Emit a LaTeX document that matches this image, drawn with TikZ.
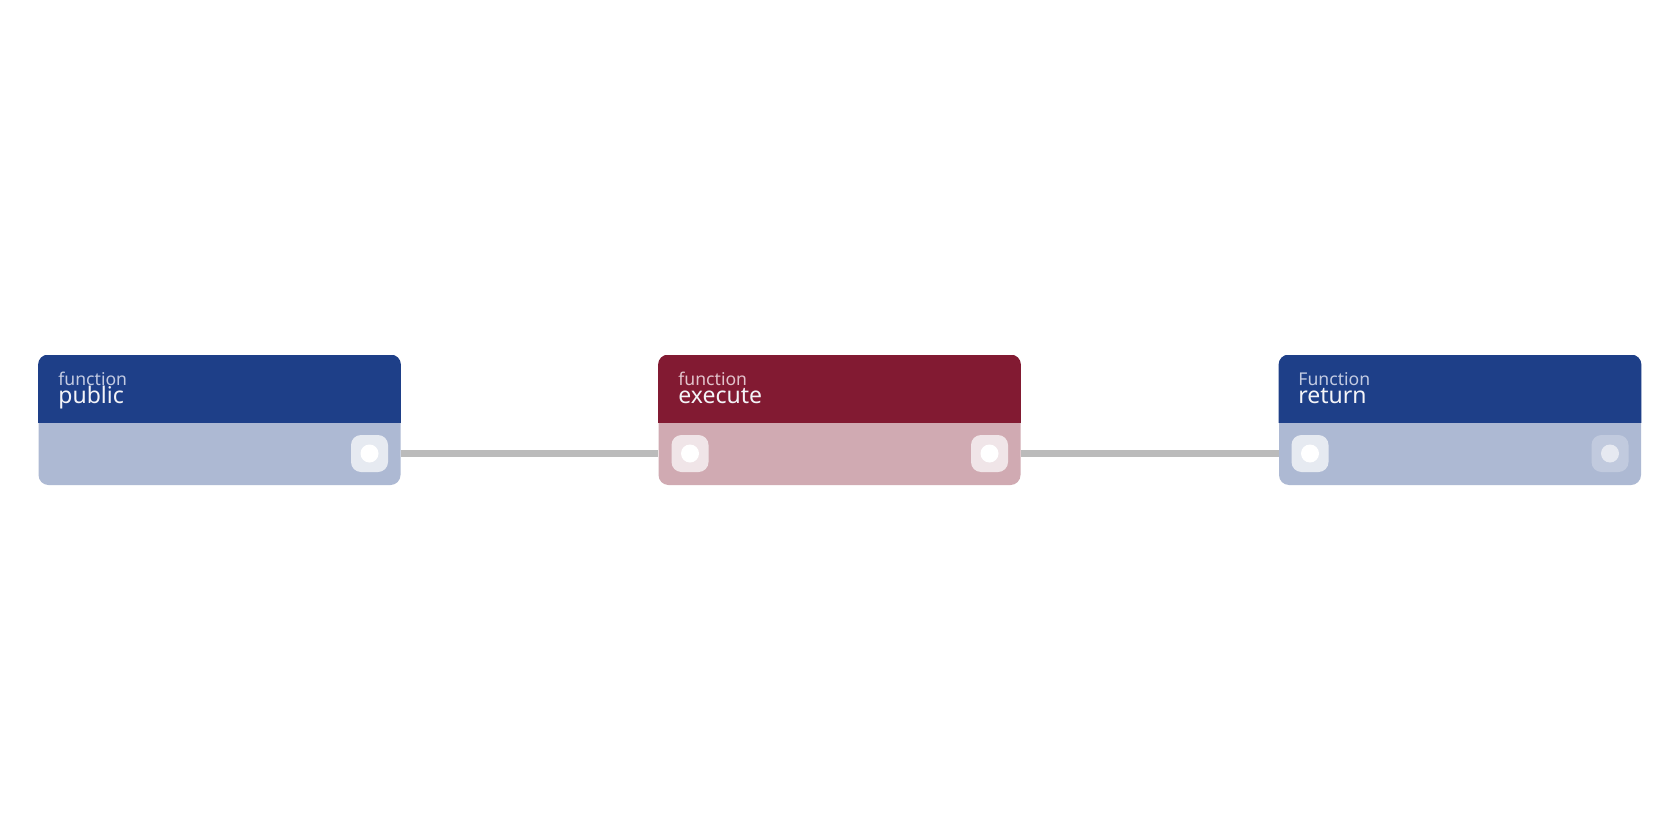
\documentclass[tikz,border=0pt]{standalone}
\usepackage{fontspec}
\setmainfont{Noto Sans}
\begin{document}
\begin{tikzpicture}[x=0.5pt,y=-0.5pt,
  nodebody/.style={rounded corners=5pt, minimum width=181pt, minimum height=65pt, inner sep=0pt, draw=none},
  portbox/.style={rounded corners=5pt, minimum width=18.5pt, minimum height=18.5pt, inner sep=0pt, fill=white, fill opacity=0.7},
  portdot/.style={circle, minimum size=9pt, inner sep=0pt, fill=white},
  fadedbox/.style={portbox, fill opacity=0.25},
  fadeddot/.style={portdot, fill opacity=0.6},
  wire/.style={draw=wirecol, line width=3.6pt},
  kind/.style={anchor=base west, inner sep=0pt, font=\fontsize{8.8}{10}\selectfont},
  title/.style={anchor=base west, inner sep=0pt, font=\fontsize{11.5}{12}\selectfont, text=titlecol}]
\definecolor{bluehead}{HTML}{1E3F88}
\definecolor{bluebody}{HTML}{ADB9D3}
\definecolor{redhead}{HTML}{821A32}
\definecolor{redbody}{HTML}{D0AAB2}
\definecolor{wirecol}{HTML}{BBBBBB}
\definecolor{titlecol}{HTML}{F4F4F8}
\definecolor{bluekind}{HTML}{C3CBE2}
\definecolor{redkind}{HTML}{E2C3CB}
\useasboundingbox[fill=white] (0,0) rectangle (1680,840);

% node bodies
\node[nodebody, fill=bluebody] (n1) at (219.5,420) {};
\node[nodebody, fill=redbody] (n2) at (839.5,420) {};
\node[nodebody, fill=bluebody] (n3) at (1460,420) {};

% headers
\begin{scope}
\clip (0,355) rectangle (1680,422.5);
\fill[bluehead, rounded corners=5pt] (n1.north west) rectangle (n1.south east);
\fill[redhead, rounded corners=5pt] (n2.north west) rectangle (n2.south east);
\fill[bluehead, rounded corners=5pt] (n3.north west) rectangle (n3.south east);
\end{scope}

% texts
\node[kind, text=bluekind] (k1) at (58,385) {function};
\node[title] (t1) at (58,403) {public};
\node[kind, text=redkind] (k2) at (678,385) {function};
\node[title] (t2) at (678,403) {execute};
\node[kind, text=bluekind] (k3) at (1298,385) {Function};
\node[title] (t3) at (1298,403) {return};

% ports
\node[portbox] (p1o) at (369.5,453.5) {};
\node[portdot] at (p1o) {};
\node[portbox] (p2i) at (690,453.5) {};
\node[portdot] at (p2i) {};
\node[portbox] (p2o) at (989.5,453.5) {};
\node[portdot] at (p2o) {};
\node[portbox] (p3i) at (1310,453.5) {};
\node[portdot] at (p3i) {};
\node[fadedbox] (p3o) at (1610,453.5) {};
\node[fadeddot] at (p3o) {};

% connectors
\draw[wire] (n1.east |- p1o) -- (n2.west |- p2i);
\draw[wire] (n2.east |- p2o) -- (n3.west |- p3i);
\end{tikzpicture}
\end{document}
